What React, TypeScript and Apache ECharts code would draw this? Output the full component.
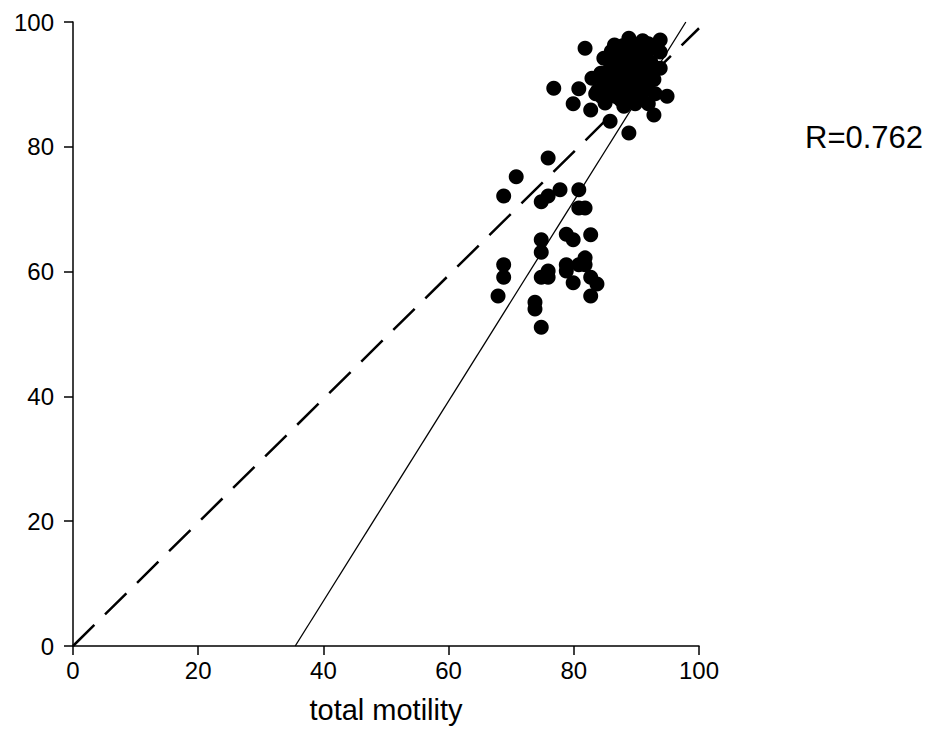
import React, { useEffect, useRef } from "react";
import * as echarts from "echarts";

// Axis ticks
const xTicks = [0, 20, 40, 60, 80, 100];
const yTicks = [0, 20, 40, 60, 80, 100];

// Lower group of observations [total motility, y]
const lowerGroup: number[][] = [
  [67.9, 56.1], [68.8, 61.1], [68.8, 59.1], [68.8, 72.1], [70.8, 75.2],
  [75.9, 78.2], [74.8, 65.1], [74.8, 63.1], [74.8, 71.2], [75.9, 72.1],
  [77.8, 73.1], [73.8, 55.1], [73.8, 54.0], [74.8, 51.1], [74.8, 59.1],
  [75.9, 60.1], [75.9, 59.1], [78.8, 66.0], [79.9, 65.1], [80.8, 73.1],
  [80.8, 70.2], [81.8, 70.2], [78.8, 61.1], [78.8, 60.1], [79.9, 58.2],
  [80.8, 61.1], [81.8, 62.2], [81.8, 61.1], [82.7, 65.9], [82.7, 59.1],
  [83.7, 58.0], [82.7, 56.1],
];

// Upper group of observations
const upperGroup: number[][] = [
  [81.8, 95.8], [76.8, 89.4], [79.9, 86.9], [80.8, 89.3], [82.7, 85.9],
  [85.8, 84.1], [88.8, 82.2], [94.9, 88.1], [92.8, 85.1], [93.8, 92.6],
  [93.8, 95.2], [93.8, 97.1], [91.9, 96.5], [88.8, 97.4], [82.9, 91.0],
  [84.8, 94.2], [86.9, 94.6], [89.8, 86.9], [91.9, 86.9], [88.8, 88.3],
  [83.8, 89.0], [84.8, 90.5], [85.8, 88.2], [86.8, 91.2], [87.8, 93.0],
  [88.8, 95.0], [89.8, 96.0], [90.8, 94.0], [91.8, 92.0], [90.8, 90.0],
  [89.8, 92.0], [88.8, 91.0], [87.8, 89.0], [86.8, 90.0], [85.8, 92.5],
  [87.8, 96.2], [86.8, 88.0], [89.8, 89.0], [91.8, 89.5], [92.8, 90.8],
  [90.8, 88.0], [88.2, 93.5], [89.3, 93.8], [87.2, 92.3], [90.3, 91.3],
  [92.3, 93.6], [93.0, 88.5], [84.3, 91.8], [83.5, 88.5], [86.0, 95.3],
  [88.0, 86.5], [89.0, 90.0], [91.0, 97.0], [87.5, 90.5], [85.0, 87.0],
  [86.3, 93.5], [88.3, 92.0], [90.0, 93.0], [91.3, 95.2], [92.5, 95.8],
  [89.5, 94.6], [87.0, 89.5], [85.3, 89.5], [88.5, 89.6], [90.5, 92.2],
  [86.5, 96.3], [89.0, 96.8], [91.5, 90.8], [84.5, 88.0], [87.5, 87.5],
];

// Reference lines: dashed near-identity and solid regression line
const dashedLine: number[][] = [[0, 0], [100, 99]];
const regressionLine: number[][] = [[35.5, 0], [97.9, 100]];

const xTitle = "total motility";
const rLabel = "R=0.762";

export default function App() {
  const ref = useRef<HTMLDivElement>(null);

  useEffect(() => {
    if (!ref.current) return;
    const chart = echarts.init(ref.current, undefined, { renderer: "svg" });
    const font = "'Liberation Sans', Arial, sans-serif";
    const axisCommon = {
      type: "value" as const,
      min: 0,
      max: 100,
      interval: 20,
      splitLine: { show: false },
      axisLine: { show: true, lineStyle: { color: "#000", width: 1.5 } },
      axisTick: { show: true, inside: false, length: 9, lineStyle: { color: "#000", width: 1.5 } },
    };
    chart.setOption({
      animation: false,
      backgroundColor: "#fff",
      grid: { left: 73, right: 231, top: 22, bottom: 106, containLabel: false },
      xAxis: {
        ...axisCommon,
        axisLabel: {
          color: "#000",
          fontSize: 24,
          fontFamily: font,
          margin: 12,
          formatter: (v: number) => (xTicks.includes(v) ? String(v) : ""),
        },
      },
      yAxis: {
        ...axisCommon,
        axisLabel: {
          color: "#000",
          fontSize: 24,
          fontFamily: font,
          margin: 19,
          formatter: (v: number) => (yTicks.includes(v) ? String(v) : ""),
        },
      },
      graphic: [
        {
          type: "text",
          x: 386,
          y: 710,
          style: {
            text: xTitle,
            fill: "#000",
            fontSize: 29,
            fontFamily: font,
            textAlign: "center",
            textVerticalAlign: "middle",
          },
        },
        {
          type: "text",
          x: 805,
          y: 137,
          style: {
            text: rLabel,
            fill: "#000",
            fontSize: 31,
            fontFamily: font,
            textAlign: "left",
            textVerticalAlign: "middle",
          },
        },
      ],
      series: [
        {
          type: "line",
          data: dashedLine,
          symbol: "none",
          lineStyle: { color: "#000", width: 2.5, type: [30, 15] },
          z: 3,
        },
        {
          type: "line",
          data: regressionLine,
          symbol: "none",
          lineStyle: { color: "#000", width: 1.3 },
          z: 3,
        },
        {
          type: "scatter",
          data: lowerGroup,
          symbol: "circle",
          symbolSize: 15,
          itemStyle: { color: "#000", opacity: 1 },
          z: 2,
        },
        {
          type: "scatter",
          data: upperGroup,
          symbol: "circle",
          symbolSize: 15,
          itemStyle: { color: "#000", opacity: 1 },
          z: 2,
        },
      ],
    });
    return () => chart.dispose();
  }, []);

  return <div ref={ref} style={{ width: 930, height: 752, margin: -8 }} />;
}
